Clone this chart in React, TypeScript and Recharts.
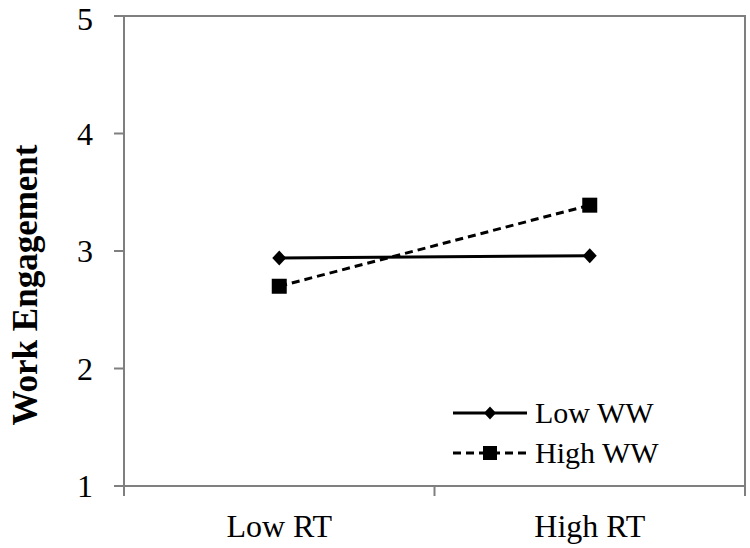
import { Line, LineChart, ReferenceArea, XAxis, YAxis } from 'recharts';

const categories = ['Low RT', 'High RT'];
const lowWW = [2.94, 2.96];
const highWW = [2.7, 3.39];
const yTicks = [1, 2, 3, 4, 5];
const seriesNames = ['Low WW', 'High WW'];

const data = categories.map((name, i) => ({ x: i + 0.5, name, low: lowWW[i], high: highWW[i] }));

const GRAY = '#7f7f7f';
const FONT = '"Liberation Serif", "Times New Roman", serif';

function Diamond({ cx, cy, size = 7.5 }: { cx?: number; cy?: number; size?: number }) {
  if (cx == null || cy == null) return null;
  const w = size - 0.5;
  return <polygon points={`${cx},${cy - size} ${cx + w},${cy} ${cx},${cy + size} ${cx - w},${cy}`} fill="#000" />;
}

function Square({ cx, cy, size = 7.5 }: { cx?: number; cy?: number; size?: number }) {
  if (cx == null || cy == null) return null;
  return <rect x={cx - size} y={cy - size} width={size * 2} height={size * 2} fill="#000" />;
}

function XTick(props: any) {
  const { x, y, payload } = props;
  const v = payload.value;
  if (Number.isInteger(v)) {
    return <line x1={x} x2={x} y1={y} y2={y + 10} stroke={GRAY} strokeWidth={2} />;
  }
  return (
    <text x={x} y={y + 51} textAnchor="middle" fontFamily={FONT} fontSize={32} fill="#000">
      {categories[Math.floor(v)]}
    </text>
  );
}

function YTitle(props: any) {
  const vb = props.viewBox || { x: 0, y: 0, width: 0, height: 0 };
  const cx = vb.x + 25;
  const cy = vb.y + vb.height / 2 + 34;
  return (
    <text x={cx} y={cy} transform={`rotate(-90 ${cx} ${cy})`} textAnchor="middle" dominantBaseline="central"
      fontFamily={FONT} fontWeight="bold" fontSize={35} fill="#000">
      Work Engagement
    </text>
  );
}

function LegendBox() {
  return (
    <svg width={280} height={110} style={{ position: 'absolute', left: 448, top: 385 }}>
      {seriesNames.map((name, i) => {
        const y = 28 + i * 40;
        return (
          <g key={name}>
            <line x1={5} x2={79} y1={y} y2={y} stroke="#000" strokeWidth={3} strokeDasharray={i === 1 ? '8 5' : undefined} />
            {i === 0 ? <Diamond cx={42} cy={y} size={6.5} /> : <Square cx={42} cy={y} size={7} />}
            <text x={87} y={y + 10} fontFamily={FONT} fontSize={30} fill="#000">{name}</text>
          </g>
        );
      })}
    </svg>
  );
}

export default function App() {
  return (
    <div style={{ position: 'absolute', left: 0, top: 0, width: 750, height: 548, background: '#fff' }}>
      <LineChart width={750} height={548} data={data} margin={{ top: 16, right: 5, bottom: 0, left: 0 }}>
        <XAxis dataKey="x" type="number" domain={[0, 2]} ticks={[0, 0.5, 1, 1.5, 2]} height={62}
          axisLine={{ stroke: GRAY, strokeWidth: 2 }} tickLine={false} tickSize={0} tickMargin={0}
          tick={<XTick />} interval={0} />
        <YAxis type="number" domain={[1, 5]} ticks={yTicks} width={124}
          axisLine={{ stroke: GRAY, strokeWidth: 2 }} tickLine={{ stroke: GRAY, strokeWidth: 2 }}
          tickSize={10} tickMargin={21} tick={{ fontFamily: FONT, fontSize: 32, fill: '#000' }}
          label={<YTitle />} />
        <ReferenceArea x1={0} x2={2} y1={1} y2={5} fill="none" stroke={GRAY} strokeWidth={2} />
        <Line type="linear" dataKey="low" name="Low WW" stroke="#000" strokeWidth={3}
          dot={<Diamond />} activeDot={false} isAnimationActive={false} />
        <Line type="linear" dataKey="high" name="High WW" stroke="#000" strokeWidth={3} strokeDasharray="8 5"
          dot={<Square />} activeDot={false} isAnimationActive={false} />
      </LineChart>
      <LegendBox />
    </div>
  );
}
